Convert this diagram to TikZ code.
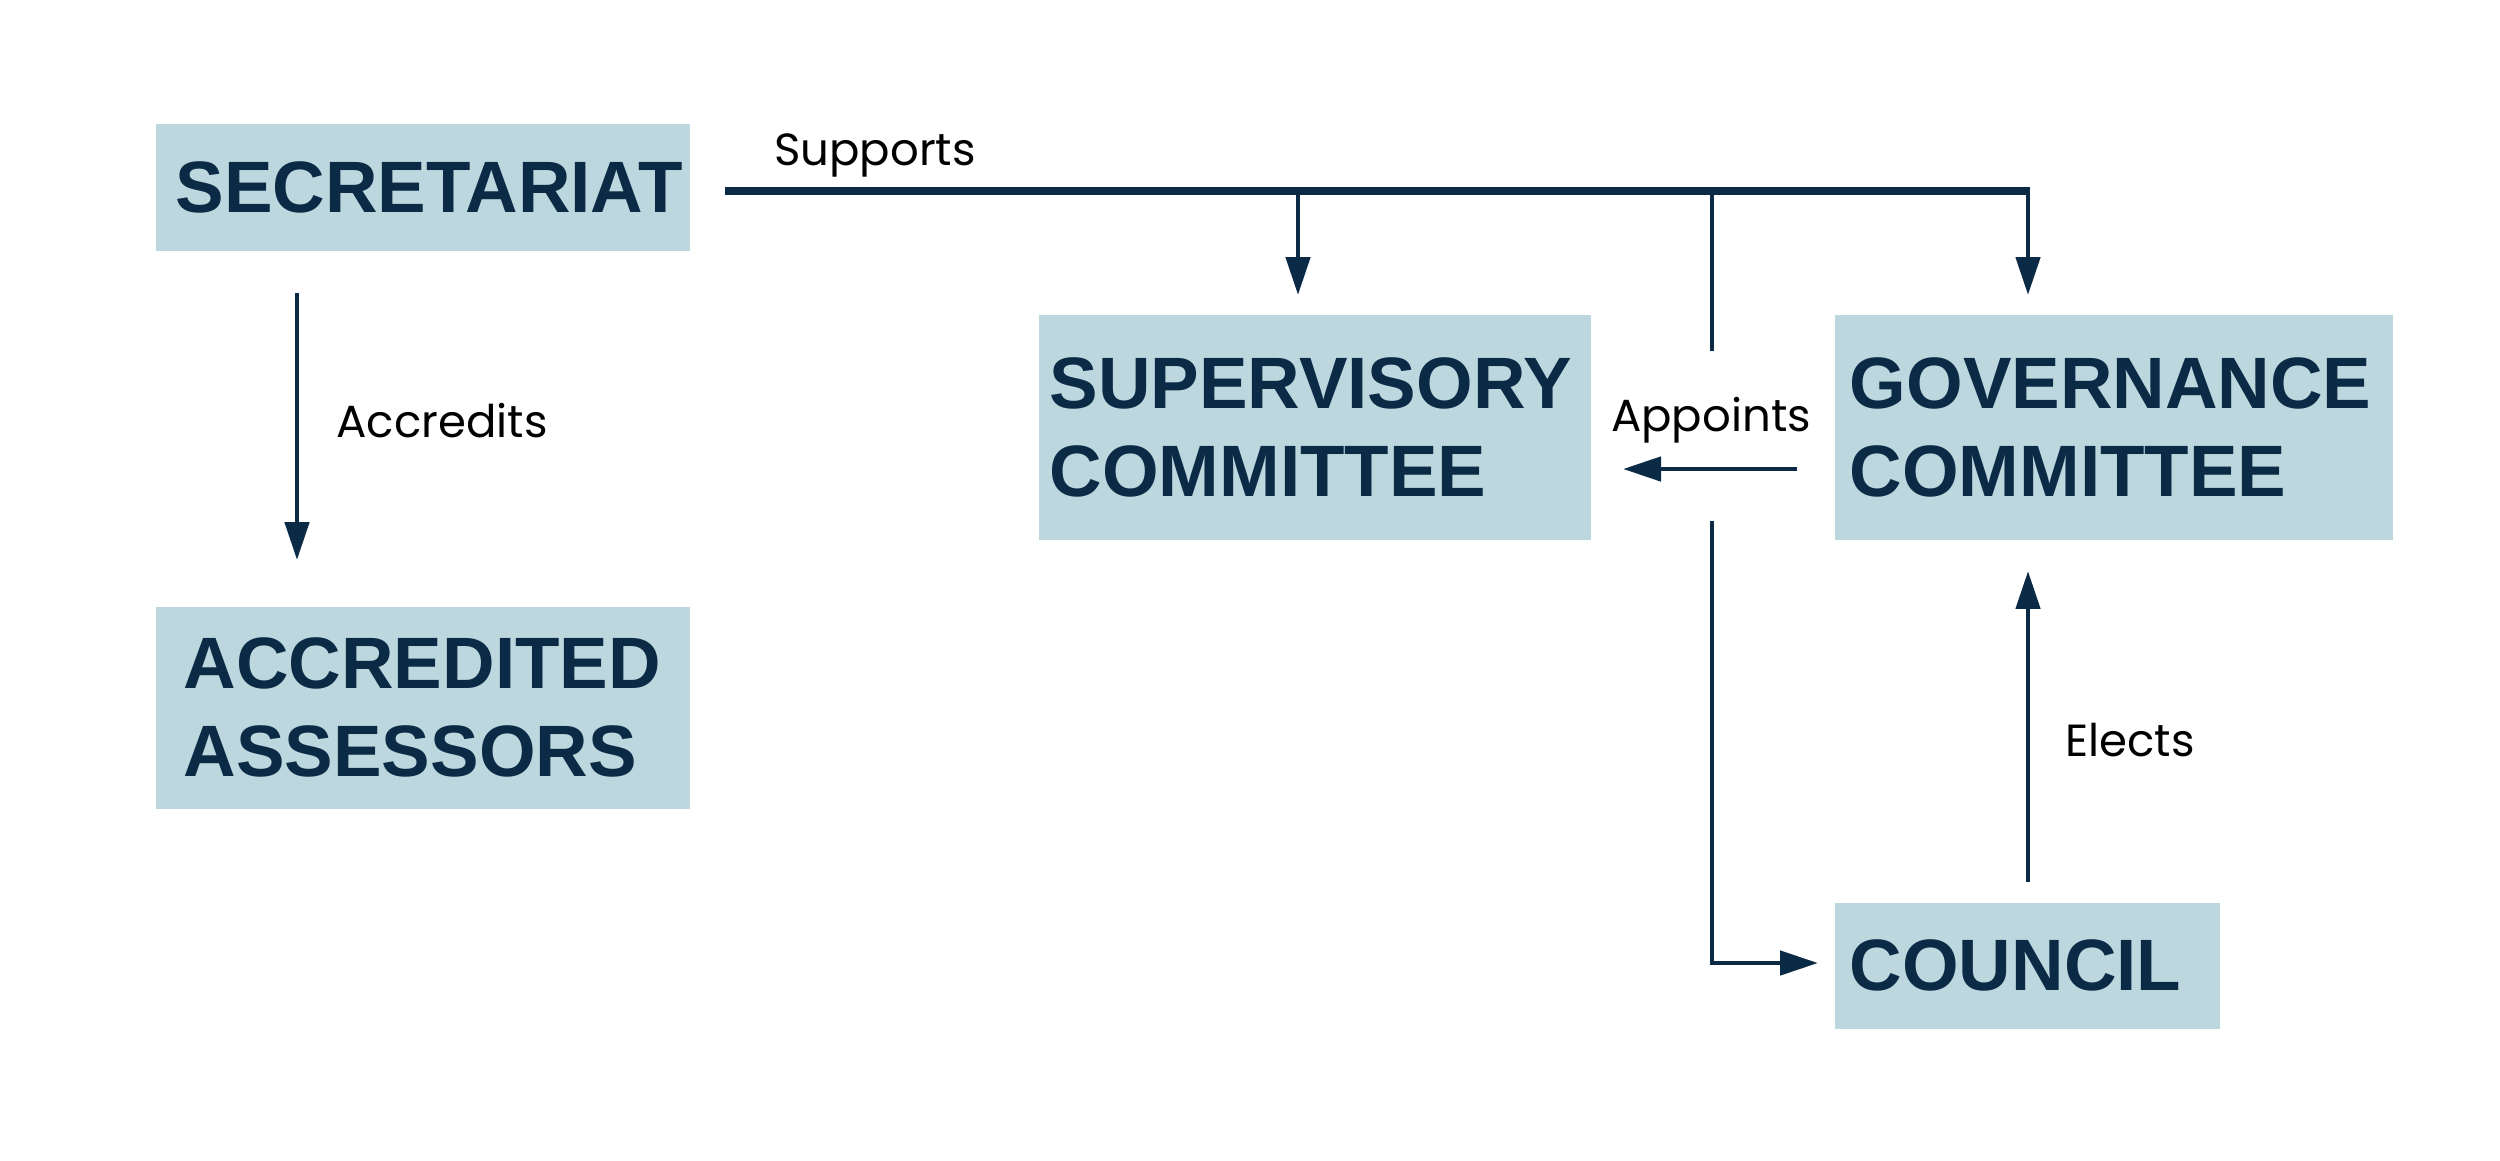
\documentclass[tikz,border=0pt]{standalone}
\usepackage{fontspec}
\setmainfont{Liberation Sans}
\newfontfamily\labelfont{Poppins}
\usetikzlibrary{arrows.meta}
\definecolor{boxfill}{HTML}{BDD7DE}
\definecolor{navy}{HTML}{0B2A45}
\begin{document}
\begin{tikzpicture}[x=0.01cm,y=-0.01cm,
  box/.style={fill=boxfill, draw=none, anchor=north west, align=left,
    font=\fontsize{20.7}{25}\selectfont\bfseries, text=navy, inner ysep=0pt},
  conn/.style={draw=navy, line width=1.4pt},
  arr/.style={conn, -{Triangle[length=10.8pt,width=6.8pt]}},
  lbl/.style={font=\labelfont\fontsize{12.8}{15}\selectfont, text=black, inner sep=0pt}]
\useasboundingbox (0,0) rectangle (2500,1160);
% boxes
\node[box, inner xsep=0.20cm, text width=4.94cm, minimum height=1.27cm] (sec) at (155,123) {SECRETARIAT};
\node[box, inner xsep=0.28cm, text width=4.78cm, minimum height=2.02cm] (acc) at (155,606) {ACCREDITED\\ASSESSORS};
\node[box, inner xsep=0.11cm, text width=5.30cm, minimum height=2.25cm] (sup) at (1038,314) {SUPERVISORY\\COMMITTEE};
\node[box, inner xsep=0.15cm, text width=5.28cm, minimum height=2.25cm] (gov) at (1834,314) {GOVERNANCE\\COMMITTEE};
\node[box, inner xsep=0.15cm, text width=3.55cm, minimum height=1.26cm] (cou) at (1834,902) {COUNCIL};
% free ends
\coordinate (s0) at (725,191);
\coordinate (s1) at (1298,191);
\coordinate (s2) at (1712,191);
\coordinate (s3) at (2028,191);
\coordinate (suptip) at (1298,295);
\coordinate (govtip) at (2028,295);
\coordinate (midend) at (1712,351);
\coordinate (appA) at (1797,469);
\coordinate (appB) at (1623,469);
\coordinate (low0) at (1712,521);
\coordinate (coutip) at (1818,963);
\coordinate (el0) at (2028,882);
\coordinate (eltip) at (2028,571);
\coordinate (ac0) at (297,293);
\coordinate (actip) at (297,560);
% connectors
\draw[arr] (s3) -- (govtip);
\draw[arr] (s1) -- (suptip);
\draw[conn] (s2) -- (midend);
\draw[conn, line width=2pt] (s0) -- ([xshift=0.7pt]s3);
\draw[arr] (appA) -- (appB);
\draw[arr] (low0) |- (coutip);
\draw[arr] (el0) -- (eltip);
\draw[arr] (ac0) -- (actip);
% labels
\node[lbl] (lsup) at (875,155) {Supports};
\node[lbl] (lacc) at (442,421) {Accredits};
\node[lbl] (lapp) at (1711,420) {Appoints};
\node[lbl] (lel) at (2130,740) {Elects};
\end{tikzpicture}
\end{document}
